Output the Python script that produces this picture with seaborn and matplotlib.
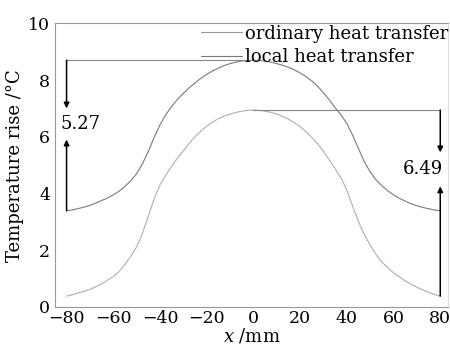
import numpy as np
import pandas as pd
import matplotlib
matplotlib.use("Agg")
import matplotlib.pyplot as plt
import seaborn as sns

# ---- data ----
x_mm = [-80, -77.5, -75, -72.5, -70, -67.5, -65, -62.5, -60, -57.5, -55, -52.5, -50, -47.5,
        -45, -42.5, -40, -37.5, -35, -32.5, -30, -27.5, -25, -22.5, -20, -17.5, -15, -12.5,
        -10, -7.5, -5, -2.5, 0, 2.5, 5, 7.5, 10, 12.5, 15, 17.5, 20, 22.5, 25, 27.5, 30,
        32.5, 35, 37.5, 40, 42.5, 45, 47.5, 50, 52.5, 55, 57.5, 60, 62.5, 65, 67.5, 70,
        72.5, 75, 77.5, 80]
local_heat = [3.39, 3.42, 3.47, 3.52, 3.58, 3.66, 3.75, 3.84, 3.95, 4.08, 4.25, 4.45, 4.70,
              5.05, 5.48, 5.98, 6.42, 6.78, 7.07, 7.32, 7.53, 7.73, 7.90, 8.06, 8.20, 8.32,
              8.42, 8.51, 8.58, 8.63, 8.67, 8.69, 8.70, 8.69, 8.67, 8.63, 8.58, 8.52, 8.45,
              8.36, 8.25, 8.12, 7.97, 7.78, 7.55, 7.30, 7.02, 6.77, 6.47, 6.05, 5.58, 5.12,
              4.76, 4.48, 4.27, 4.10, 3.95, 3.83, 3.73, 3.64, 3.57, 3.51, 3.46, 3.42, 3.39]
ordinary_heat = [0.38, 0.43, 0.49, 0.55, 0.62, 0.71, 0.82, 0.94, 1.07, 1.25, 1.50, 1.78,
                 2.12, 2.60, 3.20, 3.82, 4.30, 4.65, 4.96, 5.25, 5.50, 5.77, 6.00, 6.20,
                 6.38, 6.52, 6.64, 6.73, 6.80, 6.86, 6.90, 6.93, 6.94, 6.93, 6.90, 6.86,
                 6.80, 6.72, 6.62, 6.50, 6.36, 6.18, 5.98, 5.75, 5.48, 5.18, 4.87, 4.55,
                 4.12, 3.55, 3.00, 2.55, 2.18, 1.85, 1.58, 1.38, 1.20, 1.06, 0.92, 0.80,
                 0.70, 0.60, 0.51, 0.44, 0.38]
series_names = ["ordinary heat transfer", "local heat transfer"]
diff_labels = ["5.27", "6.49"]
x_ticks = [-80, -60, -40, -20, 0, 20, 40, 60, 80]
y_ticks = [0, 2, 4, 6, 8, 10]

df = pd.DataFrame({
    "x": x_mm * 2,
    "T": ordinary_heat + local_heat,
    "series": [series_names[0]] * len(x_mm) + [series_names[1]] * len(x_mm),
})

sns.set_theme(style="white")
plt.rcParams["font.family"] = ["DejaVu Serif"]
plt.rcParams["mathtext.fontset"] = "dejavuserif"
plt.rcParams["text.color"] = "black"
plt.rcParams["axes.labelcolor"] = "black"
plt.rcParams["xtick.color"] = "black"
plt.rcParams["ytick.color"] = "black"

FS = 13
TFS = 12.5
fig = plt.figure(figsize=(4.5, 3.48), dpi=100)
ax = fig.add_axes([0.122, 0.118, 0.874, 0.815])

sns.lineplot(data=df, x="x", y="T", hue="series", hue_order=series_names,
             palette=["#999999", "#7a7a7a"], linewidth=0.8, ax=ax, legend=True)
ax.lines[0].set_linestyle((0, (1.5, 0.4)))

ax.set_xlim(-85, 83.4)
ax.set_ylim(0, 10)
ax.set_xticks(x_ticks)
ax.set_yticks(y_ticks)
ax.set_xticklabels([str(v).replace("-", "\u2212") for v in x_ticks])
ax.tick_params(axis="x", direction="in", length=3, width=0.6, color="#888", labelsize=TFS, pad=2.5)
ax.tick_params(axis="y", direction="out", length=3, width=0.6, color="#888", labelsize=TFS, pad=0.5)
ax.set_xlabel("$x$ /mm", fontsize=FS, labelpad=-0.5)
ax.set_ylabel("Temperature rise /\u00b0C", fontsize=FS, labelpad=3)
for side in ["left", "bottom", "top", "right"]:
    ax.spines[side].set_color("#999")
    ax.spines[side].set_linewidth(0.8)
ax.spines["right"].set_color("#e0e0e0")

# annotations derived from the data
lp = max(local_heat)
op = max(ordinary_heat)
l_end = local_heat[0]
o_end = ordinary_heat[-1]
xl, xr = x_mm[0], x_mm[-1]

ax.plot([xl, 0], [lp, lp], color="#888", lw=0.8)
ax.plot([0, xr], [op, op], color="#888", lw=0.8)
arrow = dict(arrowstyle="-|>", color="black", lw=1.1, mutation_scale=8, shrinkA=0, shrinkB=0)
ax.annotate("", xy=(xl, 7.0), xytext=(xl, lp), arrowprops=arrow)
ax.annotate("", xy=(xl, 5.9), xytext=(xl, l_end), arrowprops=arrow)
ax.annotate("", xy=(xr, 5.45), xytext=(xr, op), arrowprops=arrow)
ax.annotate("", xy=(xr, 4.25), xytext=(xr, o_end), arrowprops=arrow)
ax.text(xl - 2.5, 6.45, diff_labels[0], fontsize=FS, ha="left", va="center")
ax.text(xr + 1.3, 4.88, diff_labels[1], fontsize=FS, ha="right", va="center")

leg = ax.legend(loc="upper right", bbox_to_anchor=(1.0, 0.995), frameon=False,
                fontsize=FS, handlelength=2.3, handletextpad=0.15, labelspacing=0.3,
                borderpad=0, borderaxespad=0)
for h in leg.get_lines():
    h.set_linewidth(0.8)
for t in leg.get_texts():
    t.set_color("black")

fig.savefig("out.png", dpi=100)
